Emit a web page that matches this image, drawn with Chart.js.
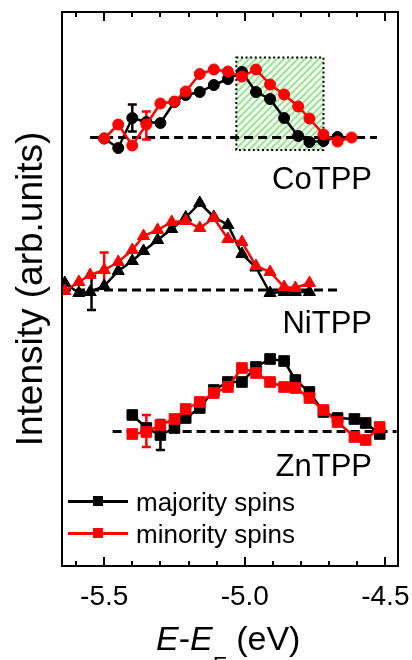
<!DOCTYPE html>
<html>
<head>
<meta charset="utf-8">
<script src="https://cdn.jsdelivr.net/npm/chart.js@4.4.1/dist/chart.umd.min.js"></script>
<style>
  html, body { margin: 0; padding: 0; background: #fff; }
  #wrap { position: relative; width: 412px; height: 660px; overflow: hidden;
          font-family: "Liberation Sans", Arial, sans-serif; color: #000; }
  #wrap canvas { position: absolute; left: 0; top: 0; }
  .lbl { position: absolute; font-size: 31px; line-height: 1; white-space: nowrap; }
  .leg { position: absolute; font-size: 26px; line-height: 1; white-space: nowrap; }
  .legline { position: absolute; height: 3px; width: 60px; }
  .legbox { position: absolute; width: 10px; height: 10px; }
  #xtitle { position: absolute; left: 156px; top: 621px; font-size: 34px; line-height: 1; white-space: nowrap; }
  #xtitle sub { font-size: 23px; position: relative; top: 24px; vertical-align: baseline; }
</style>
</head>
<body>
<div id="wrap">
  <canvas id="spinChart" width="412" height="660"></canvas>
  <div class="lbl" style="right:40px;top:163px">CoTPP</div>
  <div class="lbl" style="right:40px;top:307px">NiTPP</div>
  <div class="lbl" style="right:40px;top:450px">ZnTPP</div>

  <div class="legline" style="left:68px;top:500px;background:#000"></div>
  <div class="legbox" style="left:93px;top:496px;background:#000"></div>
  <div class="leg" style="left:136px;top:489px">majority spins</div>
  <div class="legline" style="left:68px;top:532px;background:#f00"></div>
  <div class="legbox" style="left:93px;top:528px;background:#f00"></div>
  <div class="leg" style="left:136px;top:521px">minority spins</div>

  <div id="xtitle"><i>E</i>-<i>E</i><sub>F</sub> (eV)</div>
</div>

<script>
// x axis ticks (eV), labels only at the major ones
const xTicks      = [-5.6, -5.5, -5.4, -5.3, -5.2, -5.1, -5.0, -4.9, -4.8, -4.7, -4.6, -4.5];
const xTickLabels = ['', '-5.5', '', '', '', '', '-5.0', '', '', '', '', '-4.5'];

// vertical offset of each spectrum (Co, Ni, Zn) and extent of its dashed zero line
const offsets  = [42.85, 27.6, 13.45];
const dashFrom = [-5.55, -5.65, -5.47];
const dashTo   = [-4.53, -4.66, -4.46];

// CoTPP (circles)
const coX        = [-5.50, -5.45, -5.40, -5.35, -5.30, -5.25, -5.21, -5.16, -5.11, -5.06, -5.01, -4.96, -4.91, -4.86, -4.81, -4.77, -4.72, -4.67, -4.62];
const coMajority = [-0.1, -1.05, 1.95, 1.55, 1.45, 3.55, 4.25, 4.55, 5.25, 5.85, 6.55, 4.55, 3.85, 1.95, 0.15, -0.45, -0.35, 0.05];
const coMinority = [-0.1, 1.3, -0.8, 1.3, 3.4, 3.6, 4.6, 6.35, 6.8, 6.6, 6.1, 6.8, 5.3, 4.3, 3.1, 1.9, 0.3, -0.4, 0.0];

// NiTPP (triangles)
const niX        = [-5.64, -5.59, -5.55, -5.50, -5.45, -5.40, -5.36, -5.31, -5.26, -5.21, -5.16, -5.11, -5.06, -5.01, -4.96, -4.91, -4.86, -4.82, -4.77];
const niMajority = [0.7, -0.3, -0.2, 0.4, 1.9, 2.9, 3.9, 5.0, 6.1, 7.25, 8.7, 7.3, 6.5, 3.6, 2.25, -0.3, -0.2, -0.2, -0.2];
const niMinority = [-0.1, 0.8, 1.5, 2.0, 2.8, 4.0, 5.4, 6.0, 6.8, 6.9, 6.2, 7.2, 5.1, 4.8, 2.4, 1.8, 0.3, 0.2, 0.7];

// ZnTPP (squares)
const znX        = [-5.40, -5.35, -5.30, -5.25, -5.21, -5.16, -5.11, -5.06, -5.01, -4.96, -4.91, -4.86, -4.82, -4.77, -4.72, -4.67, -4.61, -4.57, -4.52];
const znMajority = [1.65, 0.35, -0.35, 0.35, 1.35, 2.35, 4.15, 4.95, 4.95, 6.45, 7.25, 7.05, 5.15, 3.95, 1.95, 1.35, 1.25, 0.85, -0.25];
const znMinority = [-0.25, -0.05, 0.65, 1.25, 2.25, 2.95, 3.85, 4.45, 6.35, 5.85, 4.95, 4.45, 4.35, 3.35, 2.15, 0.95, -0.55, -0.85, 0.45];

// error bars: row (0 Co, 1 Ni, 2 Zn), position, half height
const errRow   = [0, 0, 1, 1, 2, 2];
const errX     = [-5.40, -5.35, -5.545, -5.50, -5.30, -5.35];
const errY     = [1.95, 1.2, -0.3, 2.0, -0.35, 0.05];
const errE     = [1.35, 1.4, 1.7, 1.75, 1.5, 1.6];
const errColor = ['#000', '#f00', '#000', '#f00', '#000', '#f00'];

// shaded window on the CoTPP spectrum
const boxX = [-5.03, -4.72];
const boxY = [41.6, 50.85];

const FONT = '"Liberation Sans", Arial, sans-serif';

function pts(xs, ys, off) {
  return ys.map((v, i) => ({ x: xs[i], y: v + off }));
}

function spinSet(xs, ys, off, color, style, radius) {
  return {
    data: pts(xs, ys, off),
    borderColor: color,
    backgroundColor: color,
    borderWidth: 2.5,
    pointStyle: style,
    pointRadius: radius,
    pointBorderWidth: 1,
    pointBackgroundColor: color,
    pointBorderColor: color,
    tension: 0,
    fill: false,
    clip: 0
  };
}

const framePlugin = {
  id: 'frame',
  beforeDatasetsDraw(chart) {
    const { ctx, scales: { x, y } } = chart;
    ctx.save();

    // hatched window
    const bx0 = x.getPixelForValue(boxX[0]), bx1 = x.getPixelForValue(boxX[1]);
    const by0 = y.getPixelForValue(boxY[1]), by1 = y.getPixelForValue(boxY[0]);
    ctx.save();
    ctx.beginPath();
    ctx.rect(bx0, by0, bx1 - bx0, by1 - by0);
    ctx.clip();
    ctx.fillStyle = '#f3fcf0';
    ctx.fillRect(bx0, by0, bx1 - bx0, by1 - by0);
    ctx.strokeStyle = '#9fe29a';
    ctx.lineWidth = 2;
    ctx.beginPath();
    const h = by1 - by0;
    for (let k = -h; k < bx1 - bx0 + h; k += 7) {
      ctx.moveTo(bx0 + k, by1);
      ctx.lineTo(bx0 + k + h, by0);
    }
    ctx.stroke();
    ctx.restore();
    ctx.strokeStyle = '#000';
    ctx.lineWidth = 2;
    ctx.setLineDash([2, 2.6]);
    ctx.strokeRect(bx0, by0, bx1 - bx0, by1 - by0);

    // dashed zero lines
    ctx.setLineDash([9, 5]);
    ctx.lineWidth = 3;
    offsets.forEach((off, i) => {
      const py = y.getPixelForValue(off);
      ctx.beginPath();
      ctx.moveTo(x.getPixelForValue(dashFrom[i]), py);
      ctx.lineTo(x.getPixelForValue(dashTo[i]), py);
      ctx.stroke();
    });

    // error bars
    ctx.setLineDash([]);
    ctx.lineWidth = 2.5;
    errX.forEach((ex, i) => {
      const px = x.getPixelForValue(ex);
      const c = errY[i] + offsets[errRow[i]];
      const top = y.getPixelForValue(c + errE[i]);
      const bot = y.getPixelForValue(c - errE[i]);
      ctx.strokeStyle = errColor[i];
      ctx.beginPath();
      ctx.moveTo(px, top); ctx.lineTo(px, bot);
      ctx.moveTo(px - 4.5, top); ctx.lineTo(px + 4.5, top);
      ctx.moveTo(px - 4.5, bot); ctx.lineTo(px + 4.5, bot);
      ctx.stroke();
    });
    ctx.restore();
  },
  afterDraw(chart) {
    const { ctx, chartArea: a, scales: { x } } = chart;
    ctx.save();
    ctx.strokeStyle = '#000';
    ctx.lineWidth = 2;
    ctx.strokeRect(a.left, a.top, a.right - a.left, a.bottom - a.top);
    ctx.beginPath();
    xTicks.forEach((v, i) => {
      const px = Math.round(x.getPixelForValue(v));
      const len = xTickLabels[i] ? 9 : 5;
      ctx.moveTo(px, a.bottom); ctx.lineTo(px, a.bottom - len);
      ctx.moveTo(px, a.top); ctx.lineTo(px, a.top + len);
    });
    ctx.stroke();
    ctx.restore();
  }
};

new Chart(document.getElementById('spinChart'), {
  type: 'line',
  data: {
    datasets: [
      spinSet(coX, coMinority, offsets[0], '#f00', 'circle', 5.5),
      spinSet(niX, niMinority, offsets[1], '#f00', 'triangle', 7),
      spinSet(znX, znMinority, offsets[2], '#f00', 'rect', 7.5),
      spinSet(coX, coMajority, offsets[0], '#000', 'circle', 5.5),
      spinSet(niX, niMajority, offsets[1], '#000', 'triangle', 7),
      spinSet(znX, znMajority, offsets[2], '#000', 'rect', 7.5)
    ]
  },
  options: {
    responsive: false,
    animation: false,
    layout: { padding: { top: 12, right: 14, left: 0, bottom: 0 } },
    plugins: { legend: { display: false }, tooltip: { enabled: false } },
    scales: {
      x: {
        type: 'linear',
        min: -5.65,
        max: -4.455,
        grid: { display: false, drawTicks: false },
        border: { display: false },
        afterBuildTicks: s => { s.ticks = xTicks.map(v => ({ value: v })); },
        afterFit: s => { s.height = 94; s.paddingLeft = 0; s.paddingRight = 0; },
        ticks: {
          autoSkip: false,
          maxRotation: 0,
          padding: 14,
          color: '#000',
          font: { family: FONT, size: 28 },
          callback: (v, i) => xTickLabels[i]
        }
      },
      y: {
        type: 'linear',
        min: 0,
        max: 55.4,
        grid: { display: false, drawTicks: false },
        border: { display: false },
        ticks: { display: false },
        afterFit: s => { s.width = 62; },
        title: {
          display: true,
          text: 'Intensity (arb.units)',
          color: '#000',
          font: { family: FONT, size: 37 },
          padding: { top: 10, bottom: 0 }
        }
      }
    }
  },
  plugins: [framePlugin]
});
</script>
</body>
</html>
